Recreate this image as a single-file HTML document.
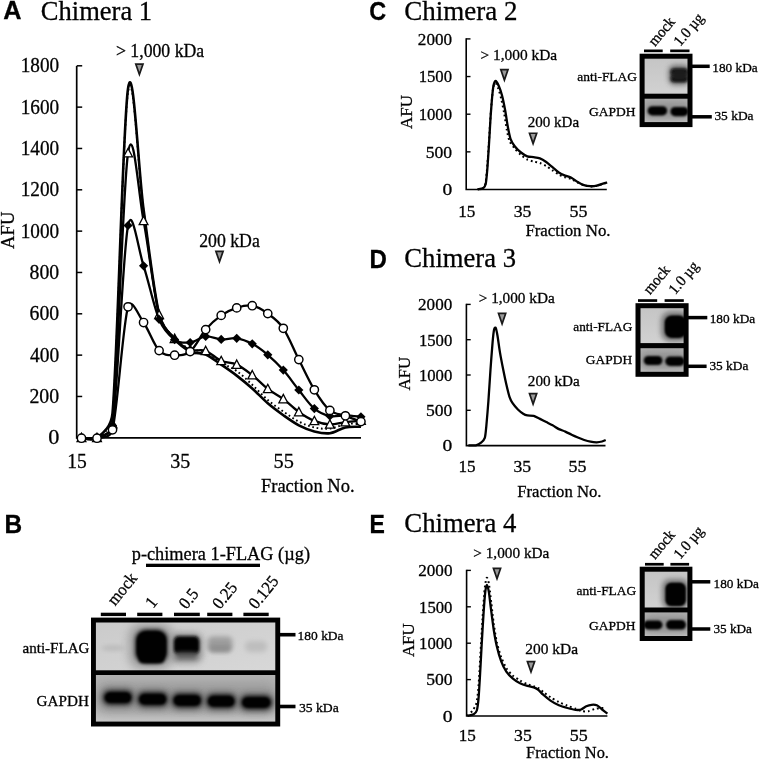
<!DOCTYPE html><html><head><meta charset="utf-8"><title>Figure</title>
<style>html,body{margin:0;padding:0;background:#fff;}svg{display:block;}text{fill:#000;stroke:#000;stroke-width:0.3px;}</style></head><body>
<svg width="761" height="760" viewBox="0 0 761 760">
<rect width="761" height="760" fill="#fff"/>
<defs>
<filter id="b1" x="-50%" y="-50%" width="200%" height="200%"><feGaussianBlur stdDeviation="1"/></filter>
<filter id="b15" x="-50%" y="-50%" width="200%" height="200%"><feGaussianBlur stdDeviation="1.5"/></filter>
<filter id="b2" x="-50%" y="-50%" width="200%" height="200%"><feGaussianBlur stdDeviation="2"/></filter>
<filter id="b3" x="-50%" y="-50%" width="200%" height="200%"><feGaussianBlur stdDeviation="3"/></filter>
<filter id="b5" x="-50%" y="-50%" width="200%" height="200%"><feGaussianBlur stdDeviation="5"/></filter>
<filter id="b25" x="-50%" y="-50%" width="200%" height="200%"><feGaussianBlur stdDeviation="2.5"/></filter>
<filter id="b12" x="-50%" y="-50%" width="200%" height="200%"><feGaussianBlur stdDeviation="1.2"/></filter>
<linearGradient id="gts" x1="0" x2="0" y1="0" y2="1"><stop offset="0" stop-color="#c4c4c4"/><stop offset="1" stop-color="#d2d2d2"/></linearGradient>
<linearGradient id="gbs" x1="0" x2="0" y1="0" y2="1"><stop offset="0" stop-color="#b0b0b0"/><stop offset="0.55" stop-color="#a8a8a8"/><stop offset="1" stop-color="#c6c6c6"/></linearGradient>
</defs>
<g opacity="0.999">
<text transform="translate(3.27,19.20) scale(1.0090,1)" font-size="25.00" font-family="Liberation Sans, sans-serif" font-weight="bold" >A</text>
<text transform="translate(40.84,19.80) scale(0.9831,1)" font-size="27.00" font-family="Liberation Serif, serif" font-weight="normal" >Chimera 1</text>
<path d="M76.70 66.00 V437.80 H361.00" fill="none" stroke="#000" stroke-width="1.7"/>
<path d="M76.70 437.80 H82.20" stroke="#000" stroke-width="1.5"/>
<text transform="translate(48.16,444.40) scale(1.0859,1)" font-size="20.50" font-family="Liberation Serif, serif" font-weight="normal" >0</text>
<path d="M76.70 396.47 H82.20" stroke="#000" stroke-width="1.5"/>
<text transform="translate(29.46,403.07) scale(0.9670,1)" font-size="20.50" font-family="Liberation Serif, serif" font-weight="normal" >200</text>
<path d="M76.70 355.13 H82.20" stroke="#000" stroke-width="1.5"/>
<text transform="translate(29.96,361.73) scale(0.9502,1)" font-size="20.50" font-family="Liberation Serif, serif" font-weight="normal" >400</text>
<path d="M76.70 313.80 H82.20" stroke="#000" stroke-width="1.5"/>
<text transform="translate(29.56,320.40) scale(0.9636,1)" font-size="20.50" font-family="Liberation Serif, serif" font-weight="normal" >600</text>
<path d="M76.70 272.47 H82.20" stroke="#000" stroke-width="1.5"/>
<text transform="translate(29.56,279.07) scale(0.9636,1)" font-size="20.50" font-family="Liberation Serif, serif" font-weight="normal" >800</text>
<path d="M76.70 231.13 H82.20" stroke="#000" stroke-width="1.5"/>
<text transform="translate(20.66,237.73) scale(0.9392,1)" font-size="20.50" font-family="Liberation Serif, serif" font-weight="normal" >1000</text>
<path d="M76.70 189.80 H82.20" stroke="#000" stroke-width="1.5"/>
<text transform="translate(20.66,196.40) scale(0.9392,1)" font-size="20.50" font-family="Liberation Serif, serif" font-weight="normal" >1200</text>
<path d="M76.70 148.47 H82.20" stroke="#000" stroke-width="1.5"/>
<text transform="translate(20.66,155.07) scale(0.9392,1)" font-size="20.50" font-family="Liberation Serif, serif" font-weight="normal" >1400</text>
<path d="M76.70 107.13 H82.20" stroke="#000" stroke-width="1.5"/>
<text transform="translate(20.66,113.73) scale(0.9392,1)" font-size="20.50" font-family="Liberation Serif, serif" font-weight="normal" >1600</text>
<path d="M76.70 65.80 H82.20" stroke="#000" stroke-width="1.5"/>
<text transform="translate(20.66,72.40) scale(0.9392,1)" font-size="20.50" font-family="Liberation Serif, serif" font-weight="normal" >1800</text>
<text transform="translate(67.29,468.10) scale(0.9487,1)" font-size="20.60" font-family="Liberation Serif, serif" font-weight="normal" >15</text>
<text transform="translate(170.35,468.10) scale(0.9709,1)" font-size="20.60" font-family="Liberation Serif, serif" font-weight="normal" >35</text>
<text transform="translate(273.53,468.10) scale(0.9871,1)" font-size="20.60" font-family="Liberation Serif, serif" font-weight="normal" >55</text>
<text transform="translate(260.94,492.40) scale(0.9752,1)" font-size="19.00" font-family="Liberation Serif, serif" font-weight="normal" >Fraction No.</text>
<text transform="translate(14.00,248.99) rotate(-90) scale(0.9729,1)" font-size="19.20" font-family="Liberation Serif, serif">AFU</text>
<text transform="translate(115.91,56.70) scale(0.9590,1)" font-size="18.50" font-family="Liberation Serif, serif" font-weight="normal" >&gt; 1,000 kDa</text>
<path d="M135.80 64.05 L143.00 64.05 L139.40 74.45 Z" fill="#9a9a9a" stroke="#1a1a1a" stroke-width="1.7" stroke-linejoin="miter"/>
<text transform="translate(199.20,247.20) scale(0.9602,1)" font-size="18.50" font-family="Liberation Serif, serif" font-weight="normal" >200 kDa</text>
<path d="M215.90 251.35 L223.10 251.35 L219.50 261.75 Z" fill="#9a9a9a" stroke="#1a1a1a" stroke-width="1.7" stroke-linejoin="miter"/>
<path d="M81.47 437.80 C84.06 437.80 91.83 441.43 97.00 437.80 C102.17 434.17 111.33 429.33 112.53 416.00 C117.70 358.37 122.88 126.17 128.05 92.00 C133.23 57.83 138.40 173.92 143.57 211.00 C148.75 248.08 153.92 293.33 159.10 314.50 C162.44 328.18 169.45 332.25 174.62 338.00 C179.80 343.75 184.97 346.67 190.15 349.00 C195.32 351.33 200.50 349.72 205.68 352.00 C210.85 354.28 216.03 359.53 221.20 362.70 C226.37 365.87 231.55 367.32 236.72 371.00 C241.90 374.68 247.07 379.97 252.25 384.80 C257.43 389.63 262.60 395.55 267.77 400.00 C272.95 404.45 278.12 407.90 283.30 411.50 C288.48 415.10 293.65 418.95 298.82 421.60 C304.00 424.25 309.17 426.23 314.35 427.40 C319.52 428.57 324.70 429.13 329.88 428.60 C335.05 428.07 340.22 425.10 345.40 424.20 C350.57 423.30 358.34 423.37 360.93 423.20" fill="none" stroke="#000" stroke-width="1.9" stroke-dasharray="1.7 2.7"/>
<path d="M81.47 437.80 C84.06 437.80 91.83 441.93 97.00 437.80 C102.17 433.67 111.23 427.57 112.53 413.00 C117.70 354.78 122.88 122.42 128.05 88.50 C133.23 54.58 138.40 171.95 143.57 209.50 C148.75 247.05 153.92 292.22 159.10 313.80 C162.55 328.19 169.45 332.72 174.62 339.00 C179.80 345.28 184.97 348.92 190.15 351.50 C195.32 354.08 200.50 352.32 205.68 354.50 C210.85 356.68 216.03 361.08 221.20 364.60 C226.37 368.12 231.55 371.62 236.72 375.60 C241.90 379.58 247.07 383.88 252.25 388.50 C257.43 393.12 262.60 398.85 267.77 403.30 C272.95 407.75 278.12 411.53 283.30 415.20 C288.48 418.87 293.65 422.60 298.82 425.30 C304.00 428.00 309.17 430.08 314.35 431.40 C319.52 432.72 324.70 433.87 329.88 433.20 C335.05 432.53 340.22 428.47 345.40 427.40 C350.57 426.33 358.34 426.90 360.93 426.80" fill="none" stroke="#000" stroke-width="2.6"/>
<path d="M81.47 437.80 C84.06 437.80 91.83 440.10 97.00 437.80 C102.17 435.50 111.40 434.32 112.53 424.00 C117.70 376.53 122.88 186.87 128.05 153.00 C133.23 119.13 138.40 193.85 143.57 220.80 C148.75 247.75 153.92 295.05 159.10 314.70 C162.74 328.52 169.45 332.87 174.62 338.70 C179.80 344.53 184.97 347.68 190.15 349.70 C195.32 351.72 200.50 348.93 205.68 350.80 C210.85 352.67 216.03 358.60 221.20 360.90 C226.37 363.20 231.55 362.23 236.72 364.60 C241.90 366.97 247.07 371.05 252.25 375.10 C257.43 379.15 262.60 384.92 267.77 388.90 C272.95 392.88 278.12 395.15 283.30 399.00 C288.48 402.85 293.65 408.35 298.82 412.00 C304.00 415.65 309.17 418.83 314.35 420.90 C319.52 422.97 324.70 424.20 329.88 424.40 C335.05 424.60 340.22 422.75 345.40 422.10 C350.57 421.45 358.34 420.77 360.93 420.50" fill="none" stroke="#000" stroke-width="2.3"/>
<path d="M81.47 433.20 L85.88 441.60 L77.07 441.60 Z" fill="#fff" stroke="#000" stroke-width="1.3"/>
<path d="M97.00 433.20 L101.40 441.60 L92.60 441.60 Z" fill="#fff" stroke="#000" stroke-width="1.3"/>
<path d="M112.53 419.40 L116.93 427.80 L108.12 427.80 Z" fill="#fff" stroke="#000" stroke-width="1.3"/>
<path d="M128.05 148.40 L132.45 156.80 L123.65 156.80 Z" fill="#fff" stroke="#000" stroke-width="1.3"/>
<path d="M143.57 216.20 L147.97 224.60 L139.17 224.60 Z" fill="#fff" stroke="#000" stroke-width="1.3"/>
<path d="M159.10 310.10 L163.50 318.50 L154.70 318.50 Z" fill="#fff" stroke="#000" stroke-width="1.3"/>
<path d="M174.62 334.10 L179.03 342.50 L170.22 342.50 Z" fill="#fff" stroke="#000" stroke-width="1.3"/>
<path d="M190.15 345.10 L194.55 353.50 L185.75 353.50 Z" fill="#fff" stroke="#000" stroke-width="1.3"/>
<path d="M205.68 346.20 L210.08 354.60 L201.28 354.60 Z" fill="#fff" stroke="#000" stroke-width="1.3"/>
<path d="M221.20 356.30 L225.60 364.70 L216.80 364.70 Z" fill="#fff" stroke="#000" stroke-width="1.3"/>
<path d="M236.72 360.00 L241.12 368.40 L232.32 368.40 Z" fill="#fff" stroke="#000" stroke-width="1.3"/>
<path d="M252.25 370.50 L256.65 378.90 L247.85 378.90 Z" fill="#fff" stroke="#000" stroke-width="1.3"/>
<path d="M267.77 384.30 L272.17 392.70 L263.38 392.70 Z" fill="#fff" stroke="#000" stroke-width="1.3"/>
<path d="M283.30 394.40 L287.70 402.80 L278.90 402.80 Z" fill="#fff" stroke="#000" stroke-width="1.3"/>
<path d="M298.82 407.40 L303.22 415.80 L294.43 415.80 Z" fill="#fff" stroke="#000" stroke-width="1.3"/>
<path d="M314.35 416.30 L318.75 424.70 L309.95 424.70 Z" fill="#fff" stroke="#000" stroke-width="1.3"/>
<path d="M329.88 419.80 L334.27 428.20 L325.48 428.20 Z" fill="#fff" stroke="#000" stroke-width="1.3"/>
<path d="M345.40 417.50 L349.80 425.90 L341.00 425.90 Z" fill="#fff" stroke="#000" stroke-width="1.3"/>
<path d="M360.93 415.90 L365.32 424.30 L356.53 424.30 Z" fill="#fff" stroke="#000" stroke-width="1.3"/>
<path d="M81.47 437.80 C84.06 437.80 91.83 439.85 97.00 437.80 C102.17 435.75 111.09 435.30 112.53 425.50 C117.70 390.12 122.88 252.12 128.05 225.50 C132.17 204.30 138.40 250.17 143.57 265.80 C148.75 281.43 153.92 307.00 159.10 319.30 C164.06 331.08 169.45 335.73 174.62 339.60 C179.80 343.47 184.97 343.03 190.15 342.50 C195.32 341.97 200.50 336.92 205.68 336.40 C210.85 335.88 216.03 339.08 221.20 339.40 C226.37 339.72 231.55 337.57 236.72 338.30 C241.90 339.03 247.07 341.05 252.25 343.80 C257.43 346.55 262.60 350.42 267.77 354.80 C272.95 359.18 278.12 364.23 283.30 370.10 C288.48 375.97 293.65 383.58 298.82 390.00 C304.00 396.42 309.17 404.27 314.35 408.60 C319.52 412.93 324.70 414.88 329.88 416.00 C335.05 417.12 340.22 415.17 345.40 415.30 C350.57 415.43 358.34 416.55 360.93 416.80" fill="none" stroke="#000" stroke-width="2.3"/>
<path d="M81.47 433.20 L86.07 437.80 L81.47 442.40 L76.88 437.80 Z" fill="#000"/>
<path d="M97.00 433.20 L101.60 437.80 L97.00 442.40 L92.40 437.80 Z" fill="#000"/>
<path d="M112.53 420.90 L117.12 425.50 L112.53 430.10 L107.93 425.50 Z" fill="#000"/>
<path d="M128.05 220.90 L132.65 225.50 L128.05 230.10 L123.45 225.50 Z" fill="#000"/>
<path d="M143.57 261.20 L148.17 265.80 L143.57 270.40 L138.97 265.80 Z" fill="#000"/>
<path d="M159.10 314.70 L163.70 319.30 L159.10 323.90 L154.50 319.30 Z" fill="#000"/>
<path d="M174.62 335.00 L179.22 339.60 L174.62 344.20 L170.03 339.60 Z" fill="#000"/>
<path d="M190.15 337.90 L194.75 342.50 L190.15 347.10 L185.55 342.50 Z" fill="#000"/>
<path d="M205.68 331.80 L210.28 336.40 L205.68 341.00 L201.08 336.40 Z" fill="#000"/>
<path d="M221.20 334.80 L225.80 339.40 L221.20 344.00 L216.60 339.40 Z" fill="#000"/>
<path d="M236.72 333.70 L241.32 338.30 L236.72 342.90 L232.12 338.30 Z" fill="#000"/>
<path d="M252.25 339.20 L256.85 343.80 L252.25 348.40 L247.65 343.80 Z" fill="#000"/>
<path d="M267.77 350.20 L272.38 354.80 L267.77 359.40 L263.17 354.80 Z" fill="#000"/>
<path d="M283.30 365.50 L287.90 370.10 L283.30 374.70 L278.70 370.10 Z" fill="#000"/>
<path d="M298.82 385.40 L303.43 390.00 L298.82 394.60 L294.22 390.00 Z" fill="#000"/>
<path d="M314.35 404.00 L318.95 408.60 L314.35 413.20 L309.75 408.60 Z" fill="#000"/>
<path d="M329.88 411.40 L334.48 416.00 L329.88 420.60 L325.27 416.00 Z" fill="#000"/>
<path d="M345.40 410.70 L350.00 415.30 L345.40 419.90 L340.80 415.30 Z" fill="#000"/>
<path d="M360.93 412.20 L365.53 416.80 L360.93 421.40 L356.32 416.80 Z" fill="#000"/>
<path d="M81.47 438.20 C84.06 438.20 91.83 439.60 97.00 438.20 C102.17 436.80 110.50 438.39 112.53 429.80 C117.70 407.90 122.88 324.68 128.05 306.80 C131.12 296.20 138.40 315.20 143.57 322.50 C148.75 329.80 153.92 345.15 159.10 350.60 C164.28 356.05 169.45 355.03 174.62 355.20 C179.80 355.37 184.97 355.87 190.15 351.60 C195.32 347.33 200.50 335.63 205.68 329.60 C210.85 323.57 216.03 319.02 221.20 315.40 C226.37 311.78 231.55 309.52 236.72 307.90 C241.90 306.28 247.07 304.75 252.25 305.70 C257.43 306.65 262.60 309.83 267.77 313.60 C272.95 317.37 278.12 320.63 283.30 328.30 C288.48 335.97 293.65 349.35 298.82 359.60 C304.00 369.85 309.17 381.33 314.35 389.80 C319.52 398.27 324.70 406.07 329.88 410.40 C335.05 414.73 340.22 413.93 345.40 415.80 C350.57 417.67 358.34 420.63 360.93 421.60" fill="none" stroke="#000" stroke-width="2.3"/>
<circle cx="81.47" cy="438.20" r="4.15" fill="#fff" stroke="#000" stroke-width="1.45"/>
<circle cx="97.00" cy="438.20" r="4.15" fill="#fff" stroke="#000" stroke-width="1.45"/>
<circle cx="112.53" cy="429.80" r="4.15" fill="#fff" stroke="#000" stroke-width="1.45"/>
<circle cx="128.05" cy="306.80" r="4.15" fill="#fff" stroke="#000" stroke-width="1.45"/>
<circle cx="143.57" cy="322.50" r="4.15" fill="#fff" stroke="#000" stroke-width="1.45"/>
<circle cx="159.10" cy="350.60" r="4.15" fill="#fff" stroke="#000" stroke-width="1.45"/>
<circle cx="174.62" cy="355.20" r="4.15" fill="#fff" stroke="#000" stroke-width="1.45"/>
<circle cx="190.15" cy="351.60" r="4.15" fill="#fff" stroke="#000" stroke-width="1.45"/>
<circle cx="205.68" cy="329.60" r="4.15" fill="#fff" stroke="#000" stroke-width="1.45"/>
<circle cx="221.20" cy="315.40" r="4.15" fill="#fff" stroke="#000" stroke-width="1.45"/>
<circle cx="236.72" cy="307.90" r="4.15" fill="#fff" stroke="#000" stroke-width="1.45"/>
<circle cx="252.25" cy="305.70" r="4.15" fill="#fff" stroke="#000" stroke-width="1.45"/>
<circle cx="267.77" cy="313.60" r="4.15" fill="#fff" stroke="#000" stroke-width="1.45"/>
<circle cx="283.30" cy="328.30" r="4.15" fill="#fff" stroke="#000" stroke-width="1.45"/>
<circle cx="298.82" cy="359.60" r="4.15" fill="#fff" stroke="#000" stroke-width="1.45"/>
<circle cx="314.35" cy="389.80" r="4.15" fill="#fff" stroke="#000" stroke-width="1.45"/>
<circle cx="329.88" cy="410.40" r="4.15" fill="#fff" stroke="#000" stroke-width="1.45"/>
<circle cx="345.40" cy="415.80" r="4.15" fill="#fff" stroke="#000" stroke-width="1.45"/>
<circle cx="360.93" cy="421.60" r="4.15" fill="#fff" stroke="#000" stroke-width="1.45"/>
<text transform="translate(4.51,533.40) scale(0.9770,1)" font-size="25.00" font-family="Liberation Sans, sans-serif" font-weight="bold" >B</text>
<text transform="translate(131.73,559.50) scale(0.9743,1)" font-size="18.80" font-family="Liberation Serif, serif" font-weight="normal" >p-chimera 1-FLAG (&#181;g)</text>
<rect x="146" y="563.7" width="114" height="3.3" fill="#000"/>
<clipPath id="ctB"><rect x="94.00" y="620.60" width="183.20" height="50.70"/></clipPath>
<clipPath id="cbB"><rect x="94.00" y="674.00" width="183.20" height="49.50"/></clipPath>
<linearGradient id="gtB" x1="0" x2="1" y1="0" y2="1"><stop offset="0" stop-color="#cacaca"/><stop offset="1" stop-color="#d8d8d8"/></linearGradient>
<linearGradient id="gbB" x1="0" x2="0" y1="0" y2="1"><stop offset="0" stop-color="#b4b4b4"/><stop offset="0.5" stop-color="#adadad"/><stop offset="1" stop-color="#cacaca"/></linearGradient>
<rect x="93.00" y="619.60" width="185.20" height="52.70" fill="url(#gtB)"/>
<rect x="93.00" y="674.00" width="185.20" height="50.50" fill="url(#gbB)"/>
<g clip-path="url(#ctB)"><ellipse cx="113.00" cy="648.00" rx="12.00" ry="3.00" fill="#bcbcbc" filter="url(#b2)" opacity="1.00"/><rect x="129.00" y="624.00" width="44.00" height="45.00" rx="13.00" fill="#8a8a8a" filter="url(#b5)" opacity="0.75"/><rect x="135.50" y="629.80" width="32.00" height="33.20" rx="10.00" fill="#000" filter="url(#b2)" opacity="1.00"/><rect x="137.00" y="631.80" width="29.00" height="29.20" rx="9.00" fill="#000" filter="url(#b1)" opacity="1.00"/><rect x="139.00" y="655.00" width="25.00" height="8.00" rx="4.00" fill="#000" filter="url(#b15)" opacity="1.00"/><rect x="170.50" y="633.00" width="32.00" height="30.00" rx="8.00" fill="#808080" filter="url(#b3)" opacity="0.80"/><rect x="173.80" y="636.00" width="25.60" height="18.50" rx="5.00" fill="#080808" filter="url(#b15)" opacity="1.00"/><rect x="175.50" y="638.50" width="22.00" height="13.00" rx="4.00" fill="#000" filter="url(#b1)" opacity="1.00"/><rect x="176.00" y="652.00" width="21.00" height="7.00" rx="3.00" fill="#555" filter="url(#b2)" opacity="0.80"/><rect x="207.50" y="636.50" width="25.00" height="15.00" rx="5.00" fill="#9e9e9e" filter="url(#b25)" opacity="1.00"/><rect x="209.50" y="645.00" width="21.00" height="7.00" rx="3.00" fill="#8c8c8c" filter="url(#b2)" opacity="0.85"/><rect x="245.00" y="641.00" width="22.00" height="11.00" rx="5.00" fill="#bdbdbd" filter="url(#b25)" opacity="1.00"/></g>
<g clip-path="url(#cbB)"><rect x="96.00" y="682.00" width="180.00" height="32.00" rx="10.00" fill="#9a9a9a" filter="url(#b5)" opacity="0.80"/><rect x="101.00" y="688.10" width="34.00" height="19.00" rx="8.00" fill="#5a5a5a" filter="url(#b3)" opacity="0.85"/><rect x="103.80" y="691.50" width="28.40" height="12.20" rx="6.10" fill="#050505" filter="url(#b2)" opacity="1.00"/><rect x="105.50" y="693.10" width="25.00" height="9.00" rx="4.50" fill="#000" filter="url(#b1)" opacity="1.00"/><rect x="135.50" y="689.70" width="34.50" height="19.00" rx="8.00" fill="#5a5a5a" filter="url(#b3)" opacity="0.85"/><rect x="138.30" y="693.10" width="28.90" height="12.20" rx="6.10" fill="#050505" filter="url(#b2)" opacity="1.00"/><rect x="140.00" y="694.70" width="25.50" height="9.00" rx="4.50" fill="#000" filter="url(#b1)" opacity="1.00"/><rect x="170.00" y="690.90" width="34.50" height="19.00" rx="8.00" fill="#5a5a5a" filter="url(#b3)" opacity="0.85"/><rect x="172.80" y="694.30" width="28.90" height="12.20" rx="6.10" fill="#050505" filter="url(#b2)" opacity="1.00"/><rect x="174.50" y="695.90" width="25.50" height="9.00" rx="4.50" fill="#000" filter="url(#b1)" opacity="1.00"/><rect x="204.30" y="691.70" width="33.80" height="19.00" rx="8.00" fill="#5a5a5a" filter="url(#b3)" opacity="0.85"/><rect x="207.10" y="695.10" width="28.20" height="12.20" rx="6.10" fill="#050505" filter="url(#b2)" opacity="1.00"/><rect x="208.80" y="696.70" width="24.80" height="9.00" rx="4.50" fill="#000" filter="url(#b1)" opacity="1.00"/><rect x="238.50" y="692.90" width="35.50" height="19.00" rx="8.00" fill="#5a5a5a" filter="url(#b3)" opacity="0.85"/><rect x="241.30" y="696.30" width="29.90" height="12.20" rx="6.10" fill="#050505" filter="url(#b2)" opacity="1.00"/><rect x="243.00" y="697.90" width="26.50" height="9.00" rx="4.50" fill="#000" filter="url(#b1)" opacity="1.00"/></g>
<rect x="93.45" y="620.05" width="184.30" height="104.00" fill="none" stroke="#000" stroke-width="4.90"/>
<rect x="92.00" y="670.30" width="187.20" height="4.70" fill="#000"/>
<rect x="100.80" y="612.7" width="25.20" height="3.4" fill="#000"/>
<rect x="137.20" y="612.7" width="25.20" height="3.4" fill="#000"/>
<rect x="174.00" y="612.7" width="25.80" height="3.4" fill="#000"/>
<rect x="207.20" y="612.7" width="25.20" height="3.4" fill="#000"/>
<rect x="243.40" y="612.7" width="25.30" height="3.4" fill="#000"/>
<rect x="279" y="632.9" width="16.5" height="3.6" fill="#000"/>
<rect x="279" y="704.7" width="16.5" height="3.6" fill="#000"/>
<text transform="translate(297.55,640.00) scale(1.0453,1)" font-size="12.90" font-family="Liberation Serif, serif" font-weight="normal" >180 kDa</text>
<text transform="translate(298.88,711.50) scale(1.0616,1)" font-size="12.90" font-family="Liberation Serif, serif" font-weight="normal" >35 kDa</text>
<text transform="translate(22.47,653.00) scale(1.0057,1)" font-size="15.00" font-family="Liberation Serif, serif" font-weight="normal" >anti-FLAG</text>
<text transform="translate(36.59,706.30) scale(1.0118,1)" font-size="15.00" font-family="Liberation Serif, serif" font-weight="normal" >GAPDH</text>
<text transform="translate(115.00,606.50) rotate(-51.0) scale(0.95,1)" font-size="17.20" font-family="Liberation Serif, serif">mock</text>
<text transform="translate(153.00,609.00) rotate(-51.0) scale(0.95,1)" font-size="17.20" font-family="Liberation Serif, serif">1</text>
<text transform="translate(186.60,610.00) rotate(-51.0) scale(0.95,1)" font-size="17.20" font-family="Liberation Serif, serif">0.5</text>
<text transform="translate(220.10,610.00) rotate(-51.0) scale(0.95,1)" font-size="17.20" font-family="Liberation Serif, serif">0.25</text>
<text transform="translate(256.30,610.00) rotate(-51.0) scale(0.95,1)" font-size="17.20" font-family="Liberation Serif, serif">0.125</text>
<text transform="translate(369.37,19.60) scale(0.9344,1)" font-size="25.00" font-family="Liberation Sans, sans-serif" font-weight="bold" >C</text>
<text transform="translate(404.32,19.70) scale(0.9991,1)" font-size="27.00" font-family="Liberation Serif, serif" font-weight="normal" >Chimera 2</text>
<path d="M466.20 38.20 V189.50 H606.80" fill="none" stroke="#000" stroke-width="1.6"/>
<text transform="translate(442.42,195.30) scale(1.1691,1)" font-size="16.70" font-family="Liberation Serif, serif" font-weight="normal" >0</text>
<path d="M466.20 151.85 H470.50" stroke="#000" stroke-width="1.4"/>
<text transform="translate(425.75,157.65) scale(1.0522,1)" font-size="16.70" font-family="Liberation Serif, serif" font-weight="normal" >500</text>
<path d="M466.20 114.20 H470.50" stroke="#000" stroke-width="1.4"/>
<text transform="translate(418.68,120.00) scale(0.9996,1)" font-size="16.70" font-family="Liberation Serif, serif" font-weight="normal" >1000</text>
<path d="M466.20 76.55 H470.50" stroke="#000" stroke-width="1.4"/>
<text transform="translate(418.68,82.35) scale(0.9996,1)" font-size="16.70" font-family="Liberation Serif, serif" font-weight="normal" >1500</text>
<path d="M466.20 38.90 H470.50" stroke="#000" stroke-width="1.4"/>
<text transform="translate(417.83,44.70) scale(1.0256,1)" font-size="16.70" font-family="Liberation Serif, serif" font-weight="normal" >2000</text>
<text transform="translate(458.24,216.60) scale(1.0084,1)" font-size="17.00" font-family="Liberation Serif, serif" font-weight="normal" >15</text>
<text transform="translate(513.70,216.60) scale(1.0415,1)" font-size="17.00" font-family="Liberation Serif, serif" font-weight="normal" >35</text>
<text transform="translate(569.42,216.60) scale(1.0588,1)" font-size="17.00" font-family="Liberation Serif, serif" font-weight="normal" >55</text>
<text transform="translate(525.39,235.90) scale(0.9799,1)" font-size="17.20" font-family="Liberation Serif, serif" font-weight="normal" >Fraction No.</text>
<text transform="translate(411.70,128.92) rotate(-90) scale(0.9579,1)" font-size="17.70" font-family="Liberation Serif, serif">AFU</text>
<text transform="translate(480.53,60.00) scale(0.9937,1)" font-size="15.50" font-family="Liberation Serif, serif" font-weight="normal" >&gt; 1,000 kDa</text>
<path d="M500.80 69.65 L508.00 69.65 L504.40 80.05 Z" fill="#9a9a9a" stroke="#1a1a1a" stroke-width="1.7" stroke-linejoin="miter"/>
<text transform="translate(527.72,126.60) scale(0.9838,1)" font-size="15.30" font-family="Liberation Serif, serif" font-weight="normal" >200 kDa</text>
<path d="M529.50 133.25 L536.70 133.25 L533.10 143.65 Z" fill="#9a9a9a" stroke="#1a1a1a" stroke-width="1.7" stroke-linejoin="miter"/>
<path d="M477.40 189.30 C478.09 189.17 481.55 189.01 482.60 188.30 C483.65 187.59 484.71 186.53 485.30 184.00 C485.89 181.47 486.53 174.62 487.00 169.30 C487.47 163.98 488.29 151.66 488.80 144.10 C489.31 136.54 490.23 120.01 490.80 112.60 C491.37 105.19 492.47 92.45 493.10 88.50 C493.73 84.55 494.82 83.03 495.50 83.00 C496.18 82.97 497.44 86.21 498.20 88.30 C498.96 90.39 500.40 95.34 501.20 98.70 C502.00 102.06 503.44 109.29 504.20 113.50 C504.96 117.71 506.19 126.63 506.90 130.30 C507.61 133.97 508.46 138.57 509.50 141.00 C510.54 143.43 513.17 146.63 514.70 148.50 C516.23 150.37 519.32 153.53 521.00 155.00 C522.68 156.47 525.62 158.63 527.30 159.50 C528.98 160.37 531.92 161.03 533.60 161.50 C535.28 161.97 538.22 162.40 539.90 163.00 C541.58 163.60 544.52 165.01 546.20 166.00 C547.88 166.99 550.82 169.27 552.50 170.40 C554.18 171.53 557.12 173.58 558.80 174.50 C560.48 175.42 563.42 176.70 565.10 177.30 C566.78 177.90 569.72 178.31 571.40 179.00 C573.08 179.69 576.02 181.66 577.70 182.50 C579.38 183.34 582.31 184.78 584.00 185.30 C585.69 185.82 588.71 186.32 590.40 186.40 C592.09 186.48 595.02 186.25 596.70 185.90 C598.38 185.55 601.60 184.21 603.00 183.80 C604.40 183.39 606.64 182.93 607.20 182.80" fill="none" stroke="#000" stroke-width="2" stroke-dasharray="1.8 2.9"/>
<path d="M477.90 189.30 C478.59 189.17 482.06 189.01 483.10 188.30 C484.14 187.59 485.14 186.53 485.70 184.00 C486.26 181.47 486.86 174.62 487.30 169.30 C487.74 163.98 488.52 151.66 489.00 144.10 C489.48 136.54 490.34 120.17 490.90 112.60 C491.46 105.03 492.56 91.51 493.20 87.30 C493.84 83.09 494.94 81.13 495.70 81.00 C496.46 80.87 498.05 84.34 498.90 86.30 C499.75 88.26 501.26 92.47 502.10 95.70 C502.94 98.93 504.43 106.29 505.20 110.50 C505.97 114.71 507.19 123.53 507.90 127.30 C508.61 131.07 509.59 136.28 510.50 138.80 C511.41 141.32 513.30 144.37 514.70 146.20 C516.10 148.03 519.32 151.15 521.00 152.50 C522.68 153.85 525.62 155.69 527.30 156.30 C528.98 156.91 531.92 156.82 533.60 157.10 C535.28 157.38 538.22 157.75 539.90 158.40 C541.58 159.05 544.52 160.83 546.20 162.00 C547.88 163.17 550.82 165.80 552.50 167.20 C554.18 168.60 557.12 171.38 558.80 172.50 C560.48 173.62 563.42 174.91 565.10 175.60 C566.78 176.29 569.72 176.85 571.40 177.70 C573.08 178.55 576.02 181.01 577.70 182.00 C579.38 182.99 582.31 184.54 584.00 185.10 C585.69 185.66 588.71 186.12 590.40 186.20 C592.09 186.28 595.02 186.05 596.70 185.70 C598.38 185.35 601.60 184.01 603.00 183.60 C604.40 183.19 606.64 182.73 607.20 182.60" fill="none" stroke="#000" stroke-width="2.3" stroke-linejoin="round"/>
<clipPath id="ctC"><rect x="643.60" y="57.70" width="44.90" height="37.00"/></clipPath>
<clipPath id="cbC"><rect x="643.60" y="97.70" width="44.90" height="25.40"/></clipPath>
<rect x="641.60" y="55.70" width="48.90" height="40.00" fill="url(#gts)"/>
<rect x="641.60" y="97.70" width="48.90" height="27.40" fill="url(#gbs)"/>
<g clip-path="url(#ctC)"><rect x="668.50" y="65.00" width="21.00" height="20.00" rx="6.00" fill="#666" filter="url(#b25)" opacity="0.90"/><rect x="670.80" y="68.80" width="17.00" height="6.40" rx="3.00" fill="#080808" filter="url(#b15)" opacity="1.00"/><rect x="670.80" y="75.40" width="17.00" height="6.60" rx="3.00" fill="#080808" filter="url(#b15)" opacity="1.00"/><rect x="672.00" y="70.00" width="15.00" height="10.00" rx="3.00" fill="#1c1c1c" filter="url(#b15)" opacity="0.90"/></g>
<g clip-path="url(#cbC)"><rect x="645.00" y="102.00" width="44.00" height="17.00" rx="6.00" fill="#8a8a8a" filter="url(#b3)" opacity="0.70"/><rect x="647.60" y="106.20" width="19.60" height="9.20" rx="4.60" fill="#050505" filter="url(#b12)" opacity="1.00"/><rect x="670.40" y="107.00" width="18.00" height="9.20" rx="4.60" fill="#050505" filter="url(#b12)" opacity="1.00"/></g>
<rect x="642.10" y="56.20" width="47.90" height="68.40" fill="none" stroke="#000" stroke-width="5.00"/>
<rect x="640.60" y="93.70" width="50.90" height="5.00" fill="#000"/>
<rect x="644.00" y="49.50" width="18.70" height="2.7" fill="#000"/>
<rect x="670.20" y="49.50" width="19.30" height="2.7" fill="#000"/>
<rect x="691.50" y="64.55" width="18.20" height="3.5" fill="#000"/>
<rect x="691.50" y="115.05" width="20.30" height="3.5" fill="#000"/>
<text transform="translate(712.27,71.90) scale(1.0256,1)" font-size="13.00" font-family="Liberation Serif, serif" font-weight="normal" >180 kDa</text>
<text transform="translate(714.39,120.30) scale(1.0346,1)" font-size="13.00" font-family="Liberation Serif, serif" font-weight="normal" >35 kDa</text>
<text transform="translate(577.23,80.60) scale(1.0122,1)" font-size="13.30" font-family="Liberation Serif, serif" font-weight="normal" >anti-FLAG</text>
<text transform="translate(589.06,115.80) scale(1.0166,1)" font-size="13.30" font-family="Liberation Serif, serif" font-weight="normal" >GAPDH</text>
<text transform="translate(655.00,47.00) rotate(-50.0) scale(0.95,1)" font-size="15.30" font-family="Liberation Serif, serif">mock</text>
<text transform="translate(680.30,47.00) rotate(-50.0) scale(0.95,1)" font-size="15.30" font-family="Liberation Serif, serif">1.0 &#181;g</text>
<text transform="translate(369.54,267.80) scale(0.9626,1)" font-size="25.00" font-family="Liberation Sans, sans-serif" font-weight="bold" >D</text>
<text transform="translate(404.33,267.30) scale(0.9865,1)" font-size="27.00" font-family="Liberation Serif, serif" font-weight="normal" >Chimera 3</text>
<path d="M466.40 303.70 V445.60 H605.50" fill="none" stroke="#000" stroke-width="1.6"/>
<text transform="translate(442.62,451.40) scale(1.1691,1)" font-size="16.70" font-family="Liberation Serif, serif" font-weight="normal" >0</text>
<path d="M466.40 410.30 H470.70" stroke="#000" stroke-width="1.4"/>
<text transform="translate(425.95,416.10) scale(1.0522,1)" font-size="16.70" font-family="Liberation Serif, serif" font-weight="normal" >500</text>
<path d="M466.40 375.00 H470.70" stroke="#000" stroke-width="1.4"/>
<text transform="translate(418.88,380.80) scale(0.9996,1)" font-size="16.70" font-family="Liberation Serif, serif" font-weight="normal" >1000</text>
<path d="M466.40 339.70 H470.70" stroke="#000" stroke-width="1.4"/>
<text transform="translate(418.88,345.50) scale(0.9996,1)" font-size="16.70" font-family="Liberation Serif, serif" font-weight="normal" >1500</text>
<path d="M466.40 304.40 H470.70" stroke="#000" stroke-width="1.4"/>
<text transform="translate(418.03,310.20) scale(1.0256,1)" font-size="16.70" font-family="Liberation Serif, serif" font-weight="normal" >2000</text>
<text transform="translate(458.44,471.70) scale(1.0084,1)" font-size="17.00" font-family="Liberation Serif, serif" font-weight="normal" >15</text>
<text transform="translate(513.40,471.70) scale(1.0415,1)" font-size="17.00" font-family="Liberation Serif, serif" font-weight="normal" >35</text>
<text transform="translate(568.62,471.70) scale(1.0588,1)" font-size="17.00" font-family="Liberation Serif, serif" font-weight="normal" >55</text>
<text transform="translate(517.20,496.70) scale(0.9706,1)" font-size="17.20" font-family="Liberation Serif, serif" font-weight="normal" >Fraction No.</text>
<text transform="translate(410.10,390.62) rotate(-90) scale(0.9579,1)" font-size="17.70" font-family="Liberation Serif, serif">AFU</text>
<text transform="translate(478.74,303.00) scale(0.9845,1)" font-size="15.50" font-family="Liberation Serif, serif" font-weight="normal" >&gt; 1,000 kDa</text>
<path d="M498.50 313.45 L505.70 313.45 L502.10 323.85 Z" fill="#9a9a9a" stroke="#1a1a1a" stroke-width="1.7" stroke-linejoin="miter"/>
<text transform="translate(527.82,386.40) scale(0.9935,1)" font-size="15.30" font-family="Liberation Serif, serif" font-weight="normal" >200 kDa</text>
<path d="M529.50 393.65 L536.70 393.65 L533.10 404.05 Z" fill="#9a9a9a" stroke="#1a1a1a" stroke-width="1.7" stroke-linejoin="miter"/>
<path d="M468.40 445.30 C469.39 445.30 474.11 445.65 475.80 445.30 C477.49 444.95 479.90 443.69 481.10 442.70 C482.30 441.71 484.11 440.09 484.80 437.90 C485.49 435.71 485.82 431.21 486.30 426.30 C486.78 421.39 487.84 408.67 488.40 401.10 C488.96 393.53 489.94 377.37 490.50 369.50 C491.06 361.63 492.12 347.43 492.60 342.10 C493.08 336.77 493.67 331.38 494.10 329.50 C494.53 327.62 495.35 327.16 495.80 328.00 C496.25 328.84 496.94 332.52 497.50 335.80 C498.06 339.08 499.24 348.11 500.00 352.60 C500.76 357.09 502.36 365.29 503.20 369.50 C504.04 373.71 505.46 380.56 506.30 384.20 C507.14 387.84 508.66 394.27 509.50 396.80 C510.34 399.33 511.48 401.51 512.60 403.20 C513.72 404.89 516.49 408.10 517.90 409.50 C519.31 410.90 521.93 412.91 523.20 413.70 C524.47 414.49 526.00 415.12 527.40 415.40 C528.80 415.68 532.02 415.33 533.70 415.80 C535.38 416.27 538.32 418.06 540.00 418.90 C541.68 419.74 544.62 421.25 546.30 422.10 C547.98 422.95 550.92 424.37 552.60 425.30 C554.28 426.23 557.21 428.26 558.90 429.10 C560.59 429.94 563.61 430.85 565.30 431.60 C566.99 432.35 569.92 433.91 571.60 434.70 C573.28 435.49 576.22 436.79 577.90 437.50 C579.58 438.21 582.52 439.44 584.20 440.00 C585.88 440.56 588.82 441.39 590.50 441.70 C592.18 442.01 595.25 442.33 596.80 442.30 C598.35 442.27 600.91 441.81 602.10 441.50 C603.29 441.19 605.22 440.20 605.70 440.00" fill="none" stroke="#000" stroke-width="2.3" stroke-linejoin="round"/>
<clipPath id="ctD"><rect x="639.50" y="307.20" width="45.10" height="36.90"/></clipPath>
<clipPath id="cbD"><rect x="639.50" y="347.20" width="45.10" height="25.60"/></clipPath>
<rect x="637.50" y="305.20" width="49.10" height="39.90" fill="url(#gts)"/>
<rect x="637.50" y="347.20" width="49.10" height="27.60" fill="url(#gbs)"/>
<g clip-path="url(#ctD)"><rect x="661.00" y="311.50" width="28.00" height="30.00" rx="9.00" fill="#6a6a6a" filter="url(#b25)" opacity="0.85"/><rect x="664.80" y="315.50" width="21.00" height="22.50" rx="7.00" fill="#000" filter="url(#b12)" opacity="1.00"/><rect x="666.00" y="317.00" width="20.00" height="19.00" rx="6.00" fill="#000" filter="url(#b1)" opacity="1.00"/></g>
<g clip-path="url(#cbD)"><rect x="641.00" y="352.00" width="44.00" height="17.00" rx="6.00" fill="#888" filter="url(#b3)" opacity="0.70"/><rect x="643.80" y="356.00" width="18.60" height="9.00" rx="4.50" fill="#050505" filter="url(#b12)" opacity="1.00"/><rect x="665.20" y="356.60" width="19.50" height="9.40" rx="4.70" fill="#050505" filter="url(#b12)" opacity="1.00"/></g>
<rect x="638.00" y="305.70" width="48.10" height="68.60" fill="none" stroke="#000" stroke-width="5.00"/>
<rect x="636.50" y="343.10" width="51.10" height="5.10" fill="#000"/>
<rect x="638.00" y="299.20" width="19.20" height="2.7" fill="#000"/>
<rect x="664.60" y="299.20" width="19.20" height="2.7" fill="#000"/>
<rect x="687.60" y="315.85" width="19.70" height="3.5" fill="#000"/>
<rect x="687.60" y="364.55" width="19.00" height="3.5" fill="#000"/>
<text transform="translate(709.67,323.40) scale(1.0256,1)" font-size="13.00" font-family="Liberation Serif, serif" font-weight="normal" >180 kDa</text>
<text transform="translate(709.40,370.30) scale(1.0292,1)" font-size="13.00" font-family="Liberation Serif, serif" font-weight="normal" >35 kDa</text>
<text transform="translate(573.24,331.20) scale(0.9985,1)" font-size="13.30" font-family="Liberation Serif, serif" font-weight="normal" >anti-FLAG</text>
<text transform="translate(585.86,364.00) scale(1.0099,1)" font-size="13.30" font-family="Liberation Serif, serif" font-weight="normal" >GAPDH</text>
<text transform="translate(650.00,295.20) rotate(-50.0) scale(0.95,1)" font-size="15.30" font-family="Liberation Serif, serif">mock</text>
<text transform="translate(675.30,295.20) rotate(-50.0) scale(0.95,1)" font-size="15.30" font-family="Liberation Serif, serif">1.0 &#181;g</text>
<text transform="translate(369.60,533.20) scale(0.9204,1)" font-size="25.00" font-family="Liberation Sans, sans-serif" font-weight="bold" >E</text>
<text transform="translate(404.33,532.40) scale(0.9894,1)" font-size="27.00" font-family="Liberation Serif, serif" font-weight="normal" >Chimera 4</text>
<path d="M466.60 569.70 V716.00 H607.40" fill="none" stroke="#000" stroke-width="1.6"/>
<text transform="translate(442.82,721.80) scale(1.1691,1)" font-size="16.70" font-family="Liberation Serif, serif" font-weight="normal" >0</text>
<path d="M466.60 679.60 H470.90" stroke="#000" stroke-width="1.4"/>
<text transform="translate(426.15,685.40) scale(1.0522,1)" font-size="16.70" font-family="Liberation Serif, serif" font-weight="normal" >500</text>
<path d="M466.60 643.20 H470.90" stroke="#000" stroke-width="1.4"/>
<text transform="translate(419.08,649.00) scale(0.9996,1)" font-size="16.70" font-family="Liberation Serif, serif" font-weight="normal" >1000</text>
<path d="M466.60 606.80 H470.90" stroke="#000" stroke-width="1.4"/>
<text transform="translate(419.08,612.60) scale(0.9996,1)" font-size="16.70" font-family="Liberation Serif, serif" font-weight="normal" >1500</text>
<path d="M466.60 570.40 H470.90" stroke="#000" stroke-width="1.4"/>
<text transform="translate(418.23,576.20) scale(1.0256,1)" font-size="16.70" font-family="Liberation Serif, serif" font-weight="normal" >2000</text>
<text transform="translate(458.64,740.70) scale(1.0084,1)" font-size="17.00" font-family="Liberation Serif, serif" font-weight="normal" >15</text>
<text transform="translate(514.10,740.70) scale(1.0415,1)" font-size="17.00" font-family="Liberation Serif, serif" font-weight="normal" >35</text>
<text transform="translate(569.82,740.70) scale(1.0588,1)" font-size="17.00" font-family="Liberation Serif, serif" font-weight="normal" >55</text>
<text transform="translate(526.01,758.10) scale(0.9553,1)" font-size="17.20" font-family="Liberation Serif, serif" font-weight="normal" >Fraction No.</text>
<text transform="translate(413.50,657.12) rotate(-90) scale(0.9579,1)" font-size="17.70" font-family="Liberation Serif, serif">AFU</text>
<text transform="translate(473.23,558.40) scale(0.9871,1)" font-size="15.50" font-family="Liberation Serif, serif" font-weight="normal" >&gt; 1,000 kDa</text>
<path d="M493.40 568.35 L500.60 568.35 L497.00 578.75 Z" fill="#9a9a9a" stroke="#1a1a1a" stroke-width="1.7" stroke-linejoin="miter"/>
<text transform="translate(525.31,653.80) scale(1.0091,1)" font-size="15.30" font-family="Liberation Serif, serif" font-weight="normal" >200 kDa</text>
<path d="M527.40 661.55 L534.60 661.55 L531.00 671.95 Z" fill="#9a9a9a" stroke="#1a1a1a" stroke-width="1.7" stroke-linejoin="miter"/>
<path d="M467.40 715.80 C468.09 715.09 471.40 712.18 472.60 710.50 C473.80 708.82 475.61 706.43 476.40 703.20 C477.19 699.97 477.97 692.77 478.50 686.30 C479.03 679.83 479.87 663.69 480.40 654.70 C480.93 645.71 481.94 627.59 482.50 618.90 C483.06 610.21 484.04 594.97 484.60 589.50 C485.16 584.03 486.14 578.74 486.70 577.90 C487.26 577.06 488.20 579.97 488.80 583.20 C489.40 586.43 490.55 596.77 491.20 602.10 C491.85 607.43 492.95 617.87 493.70 623.20 C494.45 628.53 495.81 637.62 496.80 642.10 C497.79 646.58 499.83 653.35 501.10 656.80 C502.37 660.25 504.77 665.52 506.30 668.00 C507.83 670.48 510.77 673.75 512.60 675.40 C514.43 677.05 518.03 679.23 520.00 680.40 C521.97 681.57 525.57 683.41 527.40 684.20 C529.23 684.99 532.17 685.74 533.70 686.30 C535.23 686.86 537.50 687.56 538.90 688.40 C540.30 689.24 542.65 691.41 544.20 692.60 C545.75 693.79 548.54 696.03 550.50 697.30 C552.46 698.57 556.65 700.98 558.90 702.10 C561.15 703.22 565.15 704.81 567.40 705.70 C569.65 706.59 573.84 708.07 575.80 708.80 C577.76 709.53 580.42 710.88 582.10 711.20 C583.78 711.52 586.72 711.49 588.40 711.20 C590.08 710.91 593.01 709.43 594.70 709.00 C596.39 708.57 599.55 708.13 601.10 708.00 C602.65 707.87 605.61 708.00 606.30 708.00" fill="none" stroke="#000" stroke-width="2" stroke-dasharray="1.8 2.9"/>
<path d="M467.40 715.80 C468.24 715.60 472.45 715.01 473.70 714.30 C474.95 713.59 476.16 712.55 476.80 710.50 C477.44 708.45 478.07 703.53 478.50 698.90 C478.93 694.27 479.57 683.09 480.00 675.80 C480.43 668.51 481.22 652.63 481.70 644.20 C482.18 635.77 483.12 619.61 483.60 612.60 C484.08 605.59 484.86 595.31 485.30 591.60 C485.74 587.89 486.43 584.80 486.90 584.80 C487.37 584.80 488.27 588.45 488.80 591.60 C489.33 594.75 490.25 603.35 490.90 608.40 C491.55 613.45 492.91 624.45 493.70 629.50 C494.49 634.55 495.81 642.09 496.80 646.30 C497.79 650.51 499.83 657.73 501.10 661.10 C502.37 664.47 504.77 669.31 506.30 671.60 C507.83 673.89 510.77 676.75 512.60 678.30 C514.43 679.85 518.03 682.19 520.00 683.20 C521.97 684.21 525.57 685.34 527.40 685.90 C529.23 686.46 532.30 686.92 533.70 687.40 C535.10 687.88 536.63 688.53 537.90 689.50 C539.17 690.47 541.52 693.22 543.20 694.70 C544.88 696.18 548.41 699.19 550.50 700.60 C552.59 702.01 556.65 704.31 558.90 705.30 C561.15 706.29 565.15 707.39 567.40 708.00 C569.65 708.61 573.97 709.70 575.80 709.90 C577.63 710.10 579.70 709.98 581.10 709.50 C582.50 709.02 584.90 706.93 586.30 706.30 C587.70 705.67 590.20 704.93 591.60 704.80 C593.00 704.67 595.40 704.67 596.80 705.30 C598.20 705.93 600.69 708.38 602.10 709.50 C603.51 710.62 606.69 713.14 607.40 713.70" fill="none" stroke="#000" stroke-width="2.3" stroke-linejoin="round"/>
<clipPath id="ctE"><rect x="643.70" y="570.70" width="44.70" height="37.80"/></clipPath>
<clipPath id="cbE"><rect x="643.70" y="611.40" width="44.70" height="25.60"/></clipPath>
<rect x="641.70" y="568.70" width="48.70" height="40.80" fill="url(#gts)"/>
<rect x="641.70" y="611.40" width="48.70" height="27.60" fill="url(#gbs)"/>
<g clip-path="url(#ctE)"><rect x="662.00" y="579.00" width="27.00" height="30.00" rx="8.00" fill="#6a6a6a" filter="url(#b25)" opacity="0.85"/><rect x="665.60" y="582.80" width="20.00" height="23.00" rx="5.50" fill="#000" filter="url(#b12)" opacity="1.00"/><rect x="666.60" y="584.00" width="18.00" height="21.00" rx="5.00" fill="#000" filter="url(#b1)" opacity="1.00"/></g>
<g clip-path="url(#cbE)"><rect x="645.00" y="616.00" width="44.00" height="17.00" rx="6.00" fill="#888" filter="url(#b3)" opacity="0.70"/><rect x="643.50" y="620.40" width="19.00" height="9.00" rx="4.50" fill="#050505" filter="url(#b12)" opacity="1.00"/><rect x="666.00" y="620.00" width="20.00" height="9.60" rx="4.80" fill="#050505" filter="url(#b12)" opacity="1.00"/></g>
<rect x="642.20" y="569.20" width="47.70" height="69.30" fill="none" stroke="#000" stroke-width="5.00"/>
<rect x="640.70" y="607.50" width="50.70" height="4.90" fill="#000"/>
<rect x="645.00" y="562.90" width="18.70" height="2.7" fill="#000"/>
<rect x="670.40" y="562.90" width="18.70" height="2.7" fill="#000"/>
<rect x="691.40" y="580.05" width="18.90" height="3.5" fill="#000"/>
<rect x="691.40" y="627.25" width="18.90" height="3.5" fill="#000"/>
<text transform="translate(713.57,587.60) scale(1.0210,1)" font-size="13.00" font-family="Liberation Serif, serif" font-weight="normal" >180 kDa</text>
<text transform="translate(713.40,632.90) scale(1.0185,1)" font-size="13.00" font-family="Liberation Serif, serif" font-weight="normal" >35 kDa</text>
<text transform="translate(576.53,595.30) scale(1.0105,1)" font-size="13.30" font-family="Liberation Serif, serif" font-weight="normal" >anti-FLAG</text>
<text transform="translate(589.06,629.60) scale(1.0166,1)" font-size="13.30" font-family="Liberation Serif, serif" font-weight="normal" >GAPDH</text>
<text transform="translate(655.00,560.00) rotate(-50.0) scale(0.95,1)" font-size="15.30" font-family="Liberation Serif, serif">mock</text>
<text transform="translate(680.30,560.00) rotate(-50.0) scale(0.95,1)" font-size="15.30" font-family="Liberation Serif, serif">1.0 &#181;g</text>
</g>
</svg></body></html>
